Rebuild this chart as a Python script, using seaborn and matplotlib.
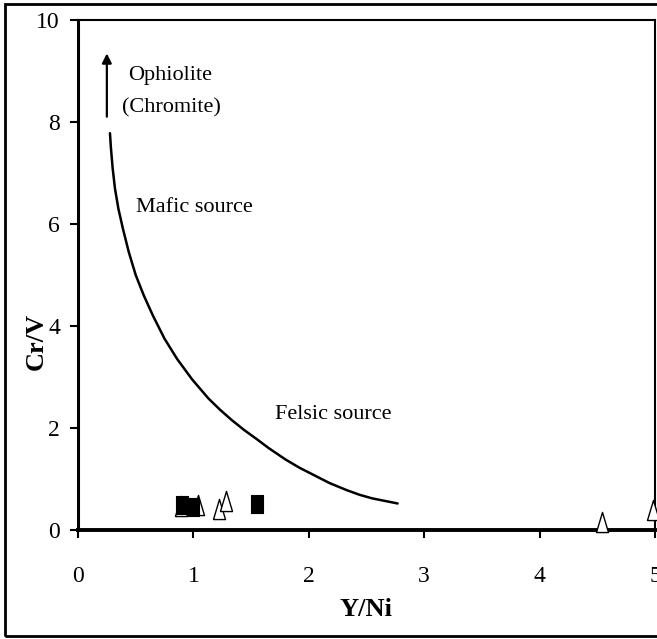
import matplotlib
matplotlib.use("Agg")
import matplotlib.pyplot as plt
import seaborn as sns
import pandas as pd

# Samples: Y/Ni vs Cr/V
square_x = [0.90, 1.00, 1.55]
square_y = [0.50, 0.45, 0.51]
triangle_x = [0.89, 1.04, 1.22, 1.28, 4.54, 4.98]
triangle_y = [0.48, 0.50, 0.41, 0.57, 0.16, 0.40]

# Mafic / felsic source boundary curve
curve_x = [0.277, 0.285, 0.30, 0.32, 0.35, 0.39, 0.44, 0.50, 0.57, 0.65, 0.75, 0.86,
           0.99, 1.13, 1.23, 1.33, 1.44, 1.55, 1.65, 1.80, 1.92, 2.05, 2.18, 2.33,
           2.44, 2.55, 2.66, 2.77]
curve_y = [7.78, 7.50, 7.10, 6.70, 6.30, 5.90, 5.45, 5.00, 4.60, 4.20, 3.75, 3.35,
           2.95, 2.58, 2.36, 2.16, 1.96, 1.78, 1.61, 1.38, 1.22, 1.07, 0.92, 0.78,
           0.69, 0.62, 0.57, 0.52]

x_ticks = [0, 1, 2, 3, 4, 5]
y_ticks = [0, 2, 4, 6, 8, 10]

sns.set_theme(style="white")
plt.rcParams["font.family"] = ["Liberation Serif", "DejaVu Serif"]
plt.rcParams["text.color"] = "black"
plt.rcParams["axes.labelcolor"] = "black"

fig = plt.figure(figsize=(6.57, 6.39), dpi=100)
ax = fig.add_axes([78 / 657, 1 - 530 / 639, (655 - 78) / 657, (530 - 20) / 639])

# outer frame around the whole figure
fig.patches.append(plt.Rectangle((5 / 657, 3 / 639), 1.2, 632 / 639, transform=fig.transFigure,
                                 fill=False, edgecolor="black", linewidth=2.0, zorder=0))

sns.lineplot(x=curve_x, y=curve_y, sort=False, color="black", linewidth=1.8, ax=ax)
ax.lines[-1].set_solid_joinstyle("round")

tri_marker = [(-0.3, -0.5), (0.3, -0.5), (0.0, 0.5), (-0.3, -0.5)]
sq_marker = [(-0.33, -0.5), (0.33, -0.5), (0.33, 0.5), (-0.33, 0.5), (-0.33, -0.5)]

tri = pd.DataFrame({"x": triangle_x, "y": triangle_y})
sq = pd.DataFrame({"x": square_x, "y": square_y})
sns.scatterplot(data=tri, x="x", y="y", marker=tri_marker, s=210, facecolor="white",
                edgecolor="black", linewidth=1.0, ax=ax, zorder=3, clip_on=False)
sns.scatterplot(data=sq, x="x", y="y", marker=sq_marker, s=180, color="black",
                edgecolor="black", linewidth=0.8, ax=ax, zorder=4)

ax.annotate("", xy=(0.25, 9.4), xytext=(0.25, 8.05),
            arrowprops=dict(arrowstyle="-|>", color="black", lw=1.6, mutation_scale=14))
ax.text(0.80, 8.92, "Ophiolite", ha="center", va="center", fontsize=16, color="black")
ax.text(0.81, 8.27, "(Chromite)", ha="center", va="center", fontsize=16, color="black")
ax.text(0.50, 6.33, "Mafic source", ha="left", va="center", fontsize=16, color="black")
ax.text(1.71, 2.27, "Felsic source", ha="left", va="center", fontsize=16, color="black")

ax.set_xlim(0, 5)
ax.set_ylim(0, 10)
ax.set_xticks(x_ticks)
ax.set_yticks(y_ticks)
ax.set_xticklabels([str(t) for t in x_ticks])
ax.set_yticklabels([str(t) for t in y_ticks])
ax.tick_params(axis="both", which="major", direction="out", length=6, width=1.5,
               labelsize=17, colors="black", bottom=True, left=True)
ax.tick_params(axis="x", pad=20)
ax.tick_params(axis="y", pad=7)

for side in ["left", "bottom", "top", "right"]:
    ax.spines[side].set_visible(True)
    ax.spines[side].set_color("black")
ax.spines["left"].set_linewidth(2.2)
ax.spines["bottom"].set_linewidth(2.8)
ax.spines["top"].set_linewidth(1.5)
ax.spines["right"].set_linewidth(1.5)

ax.set_xlabel("Y/Ni", fontsize=19, fontweight="bold", color="black")
ax.set_ylabel("Cr/V", fontsize=19, fontweight="bold", color="black")
ax.xaxis.set_label_coords(0.5, -0.133)
ax.yaxis.set_label_coords(-0.052, 0.37)

fig.savefig("out.png", dpi=100)
